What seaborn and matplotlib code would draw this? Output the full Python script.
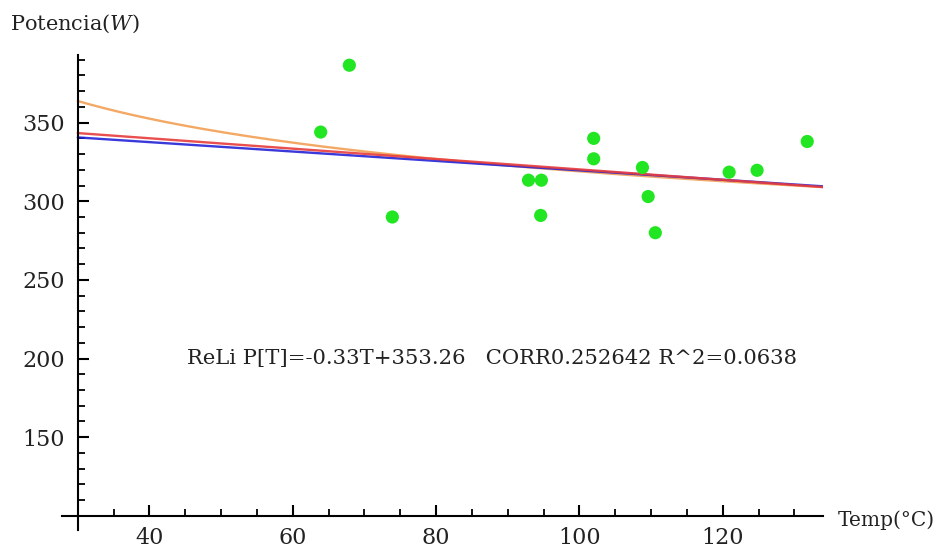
import numpy as np
import pandas as pd
import matplotlib
matplotlib.use("Agg")
import matplotlib.pyplot as plt
import seaborn as sns
from matplotlib.ticker import FixedLocator

# ---- data ----
temp = [63.9, 67.9, 73.9, 92.9, 94.7, 94.6, 102.0, 102.0, 108.8, 109.6, 110.6, 120.9, 124.8, 131.8]
power = [344, 386.5, 290, 313.4, 313.4, 291, 340, 327, 321.5, 303, 280, 318.5, 319.7, 338]

# fitted curves (parameters)
t_range = [30, 134]
lin_slope, lin_icpt = -0.33, 353.26          # red: ReLi P[T]
blue_ends = [340.6, 309.5]                     # blue fit, endpoints
pow_a, pow_b = 527.0, -0.109                   # orange: a*T^b

x_ticks = [40, 60, 80, 100, 120]
y_ticks = [150, 200, 250, 300, 350]
annot = "ReLi P[T]=-0.33T+353.26   CORR0.252642 R^2=0.0638"

sns.set_theme(style="white")
plt.rcParams['font.family'] = ['DejaVu Serif']
plt.rcParams['mathtext.fontset'] = 'dejavuserif'

W, H = 952, 551
fig = plt.figure(figsize=(W / 100, H / 100), dpi=100)
x0, x1 = 27.8, 134.0
y0, y1 = 91.0, 393.0
ax = fig.add_axes([62 / W, (H - 530) / H, (823 - 62) / W, (530 - 55) / H])

T = np.linspace(t_range[0], t_range[1], 200)
curves = pd.DataFrame({
    "T": np.concatenate([T, T, T]),
    "P": np.concatenate([
        pow_a * T ** pow_b,
        np.interp(T, t_range, blue_ends),
        lin_slope * T + lin_icpt,
    ]),
    "fit": ["orange"] * len(T) + ["blue"] * len(T) + ["red"] * len(T),
})
pal = {"blue": "#2424d8", "red": "#e83c3c", "orange": "#f2a054"}
sns.lineplot(data=curves, x="T", y="P", hue="fit", palette=pal, linewidth=1.7,
             legend=False, ax=ax, alpha=0.9, sort=False)

pts = pd.DataFrame({"T": temp, "P": power})
sns.scatterplot(data=pts, x="T", y="P", color="#22e622", s=90, edgecolor="none",
                ax=ax, zorder=5)

ax.set_xlim(x0, x1)
ax.set_ylim(y0, y1)
for s in ["top", "right"]:
    ax.spines[s].set_visible(False)
ax.spines["left"].set_position(("data", 30))
ax.spines["bottom"].set_position(("data", 100))
for s in ["left", "bottom"]:
    ax.spines[s].set_color("black")
    ax.spines[s].set_linewidth(1.5)

ax.xaxis.set_major_locator(FixedLocator(x_ticks))
ax.yaxis.set_major_locator(FixedLocator(y_ticks))
ax.xaxis.set_minor_locator(FixedLocator([v for v in range(35, 131, 5) if v not in x_ticks]))
ax.yaxis.set_minor_locator(FixedLocator([v for v in range(110, 391, 10) if v not in y_ticks]))
ax.tick_params(which="major", direction="in", length=8, width=1.5, color="black",
               labelsize=16, pad=9, bottom=True, left=True, labelcolor="#222222")
ax.tick_params(which="minor", direction="in", length=5, width=1.3, color="black",
               bottom=True, left=True)
ax.tick_params(axis="x", pad=8)
ax.set_xlabel("")
ax.set_ylabel("")
ax.grid(False)

fig.text(10 / W, 1 - 24 / H, r"Potencia($W$)", fontsize=15, ha="left", va="center",
         color="#222222")
fig.text(838 / W, 1 - 520 / H, "Temp(°C)", fontsize=14.5, ha="left", va="center",
         color="#222222")
ax.text(45.2, 200, annot, fontsize=15.2, ha="left", va="center", color="#222222")

fig.savefig("out.png", dpi=100)
